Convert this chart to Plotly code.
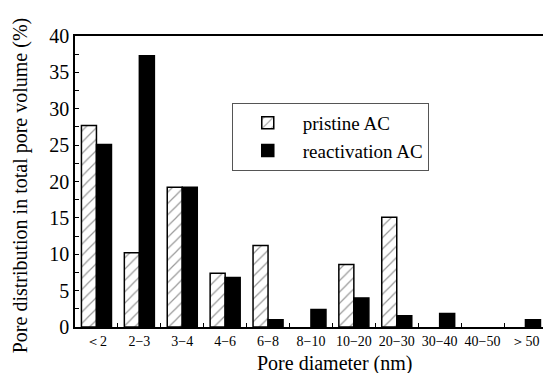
import plotly.graph_objects as go

categories = ["＜2", "2−3", "3−4", "4−6", "6−8", "8−10", "10−20", "20−30", "30−40", "40−50", "＞50"]
pristine = [27.7, 10.2, 19.2, 7.4, 11.2, 0.0, 8.6, 15.1, 0.0, 0.0, 0.0]
reactivation = [25.1, 37.3, 19.2, 6.8, 1.0, 2.4, 4.0, 1.55, 1.84, 0.0, 1.0]
series_names = ["pristine AC", "reactivation AC"]
y_ticks = [0, 5, 10, 15, 20, 25, 30, 35, 40]

FONT = "'Liberation Serif', 'Times New Roman', serif"

def outline_widths(values):
    return [1.5 if v > 0 else 0 for v in values]

fig = go.Figure()
fig.add_trace(go.Bar(
    x=categories, y=pristine, name=series_names[0],
    marker=dict(color="white",
                line=dict(color="black", width=outline_widths(pristine)),
                pattern=dict(shape="/", fgcolor="#333333", bgcolor="white", size=8, solidity=0.15)),
))
fig.add_trace(go.Bar(
    x=categories, y=reactivation, name=series_names[1],
    marker=dict(color="black", line=dict(color="black", width=outline_widths(reactivation))),
))

fig.update_layout(
    width=543, height=373,
    margin=dict(l=75, r=0, t=36, b=46, pad=0),
    paper_bgcolor="white", plot_bgcolor="white",
    barmode="group", bargap=0.3, bargroupgap=0,
    font=dict(family=FONT, color="black", size=20),
    showlegend=True,
    legend=dict(x=0.335, y=0.77, xanchor="left", yanchor="top",
                bordercolor="#555555", borderwidth=1, bgcolor="white",
                font=dict(family=FONT, size=19, color="black"),
                itemwidth=60, tracegroupgap=4),
    xaxis=dict(type="category", range=[-0.5, 10.409],
               showline=True, linecolor="black", linewidth=1.5, mirror=True,
               ticks="inside", tickson="boundaries", ticklen=4, tickcolor="black", tickwidth=1,
               tickangle=0,
               tickfont=dict(family=FONT, size=14, color="black"),
               showgrid=False, zeroline=False),
    yaxis=dict(range=[0, 40], tickvals=y_ticks,
               showline=True, linecolor="black", linewidth=1.5, mirror=False,
               ticks="inside", ticklen=4, tickcolor="black", tickwidth=1,
               minor=dict(dtick=2.5, ticks="inside", ticklen=4, tickcolor="black", tickwidth=1, showgrid=False),
               tickfont=dict(family=FONT, size=20, color="black"),
               showgrid=False, zeroline=False),
    annotations=[
        dict(text="Pore diameter (nm)", xref="paper", yref="paper", x=0.556, y=0,
             xanchor="center", yanchor="top", yshift=-23, showarrow=False,
             font=dict(family=FONT, size=20, color="black")),
        dict(text="Pore distribution in total pore volume (%)", xref="paper", yref="paper",
             x=0, y=0.487, xanchor="center", yanchor="middle", xshift=-55, textangle=-90,
             showarrow=False, font=dict(family=FONT, size=20, color="black")),
    ],
)

fig.write_html("out.html")
